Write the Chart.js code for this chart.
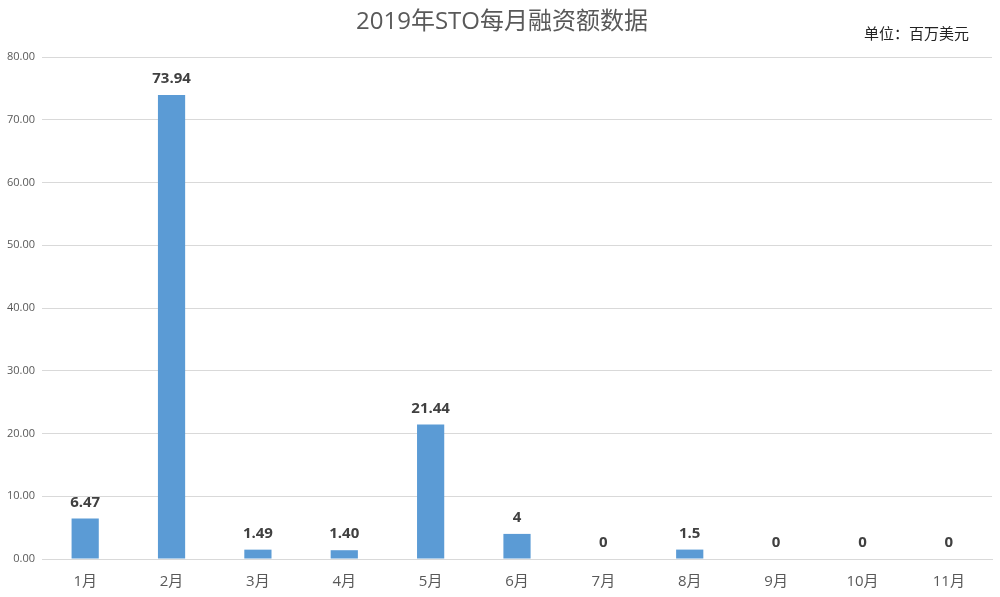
<!DOCTYPE html>
<html>
<head>
<meta charset="utf-8">
<script src="https://cdn.jsdelivr.net/npm/chart.js@4"></script>
<style>
  html, body { margin: 0; padding: 0; background: #fff; }
  #wrap { width: 1000px; height: 597px; position: relative; }
</style>
</head>
<body>
<div id="wrap"><canvas id="chart"></canvas></div>
<script>
// 数据
const months = ["1月", "2月", "3月", "4月", "5月", "6月", "7月", "8月", "9月", "10月", "11月"];
const amounts = [6.47, 73.94, 1.49, 1.40, 21.44, 4, 0, 1.5, 0, 0, 0];
const amountLabels = ["6.47", "73.94", "1.49", "1.40", "21.44", "4", "0", "1.5", "0", "0", "0"];
const titleText = "2019年STO每月融资额数据";
const unitText = "单位：百万美元";

const FONT = "'Open Sans', 'Noto Sans CJK SC', sans-serif";

// 标题、单位和柱顶数值
const textPlugin = {
  id: "texts",
  afterDatasetsDraw(chart) {
    const ctx = chart.ctx;
    ctx.save();
    ctx.textAlign = "center";
    ctx.textBaseline = "middle";
    ctx.fillStyle = "#595959";
    ctx.font = "24px " + FONT;
    ctx.fillText(titleText, 502, 22);

    ctx.fillStyle = "#222";
    ctx.font = "15px " + FONT;
    ctx.textAlign = "left";
    ctx.fillText(unitText, 864, 35);

    ctx.textAlign = "center";
    ctx.fillStyle = "#404040";
    ctx.font = "bold 15px " + FONT;
    const meta = chart.getDatasetMeta(0);
    meta.data.forEach((bar, i) => {
      ctx.fillText(amountLabels[i], bar.x, bar.y - 16);
    });
    ctx.restore();
  }
};

new Chart(document.getElementById("chart").getContext("2d"), {
  type: "bar",
  data: {
    labels: months,
    datasets: [{
      data: amounts,
      backgroundColor: "#5b9bd5",
      barPercentage: 0.63,
      categoryPercentage: 0.5
    }]
  },
  options: {
    responsive: true,
    maintainAspectRatio: false,
    animation: false,
    layout: { padding: { top: 57, right: 8, left: 0, bottom: 0 } },
    plugins: {
      legend: { display: false },
      tooltip: { enabled: false }
    },
    scales: {
      x: {
        grid: { display: false },
        border: { color: "#d9d9d9" },
        ticks: { color: "#595959", font: { family: FONT, size: 15 }, padding: 6 },
        afterFit(scale) { scale.height = 38; }
      },
      y: {
        min: 0,
        max: 80,
        ticks: {
          stepSize: 10,
          color: "#595959",
          font: { family: FONT, size: 11 },
          padding: 7,
          callback: v => v.toFixed(2)
        },
        grid: { color: "#d9d9d9", drawTicks: false },
        border: { display: false },
        afterFit(scale) { scale.width = 42; }
      }
    }
  },
  plugins: [textPlugin]
});
</script>
</body>
</html>
